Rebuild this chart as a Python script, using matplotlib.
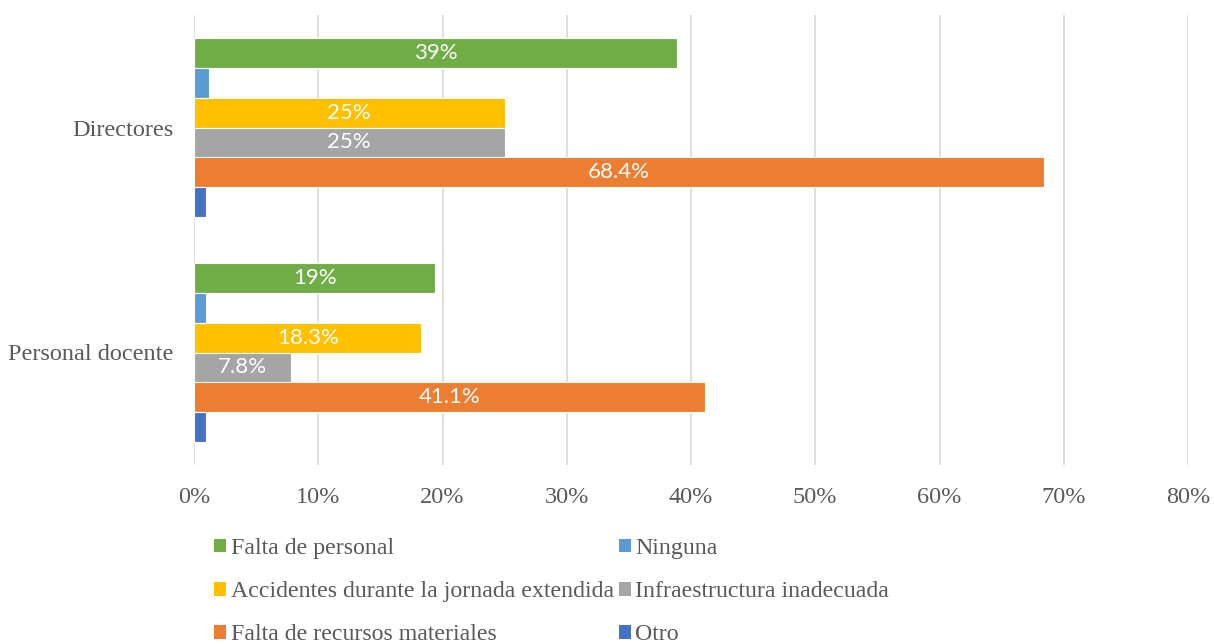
import matplotlib
matplotlib.use("Agg")
import matplotlib.pyplot as plt
from matplotlib.patches import Patch
import numpy as np

categories = ["Directores", "Personal docente"]
series = ["Falta de personal", "Ninguna", "Accidentes durante la jornada extendida",
          "Infraestructura inadecuada", "Falta de recursos materiales", "Otro"]
falta_personal = [38.9, 19.4]
ninguna = [1.2, 1.0]
accidentes = [25.0, 18.3]
infraestructura = [25.0, 7.8]
recursos = [68.4, 41.1]
otro = [1.0, 1.0]
labels_falta_personal = ["39%", "19%"]
labels_accidentes = ["25%", "18.3%"]
labels_infraestructura = ["25%", "7.8%"]
labels_recursos = ["68.4%", "41.1%"]
colors = ["#70AD47", "#5B9BD5", "#FFC000", "#A5A5A5", "#ED7D31", "#4472C4"]

values = [falta_personal, ninguna, accidentes, infraestructura, recursos, otro]
bar_labels = [labels_falta_personal, None, labels_accidentes, labels_infraestructura, labels_recursos, None]

fig = plt.figure(figsize=(12.14, 6.44), dpi=100)
ax = fig.add_axes([194/1214, 1-465/644, (1188-194)/1214, (465-15)/644])

h = 0.1333
y = np.arange(len(categories))
text_color = "#595959"
for i, (vals, col, lab) in enumerate(zip(values, colors, bar_labels)):
    pos = y + (i - 2.5) * h
    bars = ax.barh(pos, vals, height=h, color=col, edgecolor="white", linewidth=0.8, zorder=3)
    if lab is not None:
        ax.bar_label(bars, labels=lab, label_type="center", color="white",
                     fontsize=16, family="Lato", zorder=4)

ax.set_ylim(1.5, -0.5)
ax.set_xlim(0, 80)
ax.set_xticks(np.arange(0, 81, 10))
ax.set_xticklabels([f"{v}%" for v in range(0, 81, 10)], family="Liberation Serif",
                   fontsize=17.5, color=text_color)
ax.set_yticks(y)
ax.set_yticklabels(categories, family="Liberation Serif", fontsize=17.5, color=text_color)
ax.tick_params(axis="both", length=0)
ax.tick_params(axis="x", pad=16)
ax.tick_params(axis="y", pad=15)
ax.grid(axis="x", color="#D9D9D9", linewidth=1.2, zorder=0)
for s in ax.spines.values():
    s.set_visible(False)

order = [0, 2, 4, 1, 3, 5]
handles = [Patch(facecolor=colors[k], edgecolor="none", label=series[k]) for k in order]
fig.legend(handles=handles, loc="upper left", bbox_to_anchor=(214/1214, 1-538/644),
           ncol=2, frameon=False, handlelength=0.5, handleheight=0.5, handletextpad=0.2,
           columnspacing=0.2, labelspacing=0.93,
           prop={"family": "Liberation Serif", "size": 17.2}, labelcolor=text_color,
           borderaxespad=0, borderpad=0)

fig.savefig("out.png", dpi=100)
